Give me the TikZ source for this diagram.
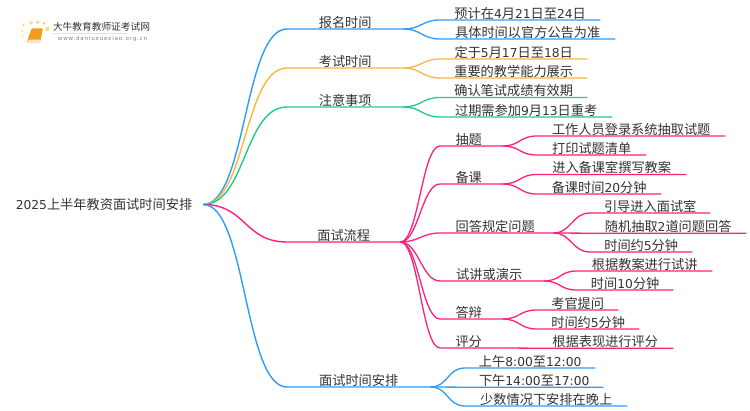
\documentclass[tikz,border=0pt]{standalone}
\usepackage{fontspec}
\setmainfont{Noto Sans CJK SC}
\newfontfamily\latinfont[Scale=0.93]{DejaVu Sans}
\newfontfamily\urlfont[LetterSpace=14]{DejaVu Sans}
\newcommand{\dv}[1]{{\latinfont #1}}
\definecolor{mapblue}{HTML}{2C9BFF}
\definecolor{maporange}{HTML}{FBB63C}
\definecolor{mapgreen}{HTML}{22CB80}
\definecolor{mappink}{HTML}{FF1F7C}
\definecolor{maptext}{HTML}{333333}
\definecolor{bookorange}{HTML}{F59A1B}
\definecolor{dotyellow}{HTML}{FBD67A}

\begin{document}
\begin{tikzpicture}[x=1pt, y=-1pt,
    itembox/.style={anchor=south west, inner sep=0pt, minimum height=13.5pt, text height=10pt, text depth=0pt, font=\fontsize{13.2}{15}\selectfont, text=maptext},
    rootbox/.style={inner sep=0pt, minimum width=198pt, font=\fontsize{13.2}{15}\selectfont, text=maptext},
    dot/.style={fill=dotyellow, draw=none}]
  \useasboundingbox (0,0) rectangle (750,410);
  % logo
  \foreach \px/\py/\pr in {31/22.7/1.8, 37.7/22.3/1.8, 44/23.3/1.7, 47.3/29/2, 23.3/25/1.3, 22/30.7/1.1, 22.7/36/.9, 24/42/.7}
    \fill[dot] (\px,\py) circle (\pr);
  \fill[bookorange, rounded corners=1pt] (26.7,42.3) -- (31.7,28.3) -- (43,28.3) -- (40,42.3) -- cycle;
  \fill[white!75!bookorange] (27.5,42) -- (28.5,39.5) -- (40,39.5) -- (39.6,42) -- cycle;
  \node[inner sep=0pt, font=\fontsize{9.7}{11}\selectfont, text=maptext] (logotitle) at (101.5,27) {大牛教育教师证考试网};
  \draw[gray!25] (53,33) -- (127,33);
  \node[inner sep=0pt, font=\urlfont\fontsize{5.6}{7}\selectfont, text=gray] (logourl) at (102.5,39) {www.daniuxuexiao.org.cn};
  % root
  \node[rootbox] (root) at (104,204.5) {\dv{2025}上半年教资面试时间安排};
  % main branches
  \foreach \nm/\y/\w/\clr/\txt in {
      t1/29/116/mapblue/报名时间,
      t2/68/116/maporange/考试时间,
      t3/107/116/mapgreen/注意事项,
      t4/242/113/mappink/面试流程,
      t5/387/143/mapblue/面试时间安排} {
    \node[itembox, minimum width=\w pt] (\nm) at (287,\y) {\txt};
    \draw[draw=\clr, line width=1.4pt] (root.east) .. controls +(43,0) and +(-43,0) .. (\nm.south west) -- (\nm.south east);
  }
  % second level
  \foreach \nm/\from/\x/\y/\w/\clr/\txt in {
      a1/t1/440/20/160/mapblue/预计在\dv{4}月\dv{21}日至\dv{24}日,
      a2/t1/440/39/175/mapblue/具体时间以官方公告为准,
      b1/t2/440/59/147/maporange/定于\dv{5}月\dv{17}日至\dv{18}日,
      b2/t2/440/78/147/maporange/重要的教学能力展示,
      c1/t3/440/97.5/147/mapgreen/确认笔试成绩有效期,
      c2/t3/440/117/172/mapgreen/过期需参加\dv{9}月\dv{13}日重考,
      d1/t4/440/146/62/mappink/抽题\kern5pt,
      d2/t4/440/184/62/mappink/备课\kern5pt,
      d3/t4/440/233/113/mappink/回答规定问题\kern3pt,
      d4/t4/440/281/103/mappink/试讲或演示\kern5pt,
      d5/t4/440/319/62/mappink/答辩\kern5pt,
      d6/t4/440/348/62/mappink/评分\kern5pt,
      e1/t5/465/368/130/mapblue/上午\dv{8:00}至\dv{12:00},
      e2/t5/465/387.2/138/mapblue/下午\dv{14:00}至\dv{17:00},
      e3/t5/465/406/162/mapblue/少数情况下安排在晚上} {
    \node[itembox, minimum width=\w pt] (\nm) at (\x,\y) {\txt};
    \draw[draw=\clr, line width=1.3pt] (\from.south east) .. controls +(18,0) and +(-18,0) .. (\nm.south west) -- (\nm.south east);
  }
  % third level
  \foreach \nm/\from/\x/\y/\w/\txt in {
      f1/d1/537/136/188/工作人员登录系统抽取试题,
      f2/d1/537/155/109/打印试题清单,
      g1/d2/537/174.5/149/进入备课室撰写教案,
      g2/d2/537/194/124/备课时间\dv{20}分钟,
      h1/d3/590/213/120/引导进入面试室,
      h2/d3/590/233.2/156/随机抽取\dv{2}道问题回答,
      h3/d3/590/252/102/时间约\dv{5}分钟,
      i1/d4/577/271/135/根据教案进行试讲,
      i2/d4/577/290/96/时间\dv{10}分钟,
      j1/d5/537/310/81/考官提问,
      j2/d5/537/329/102/时间约\dv{5}分钟,
      k1/d6/537/348.2/136/根据表现进行评分} {
    \node[itembox, minimum width=\w pt] (\nm) at (\x,\y) {\txt};
    \draw[draw=mappink, line width=1.3pt] (\from.south east) .. controls +(18,0) and +(-18,0) .. (\nm.south west) -- (\nm.south east);
  }
\end{tikzpicture}
\end{document}
